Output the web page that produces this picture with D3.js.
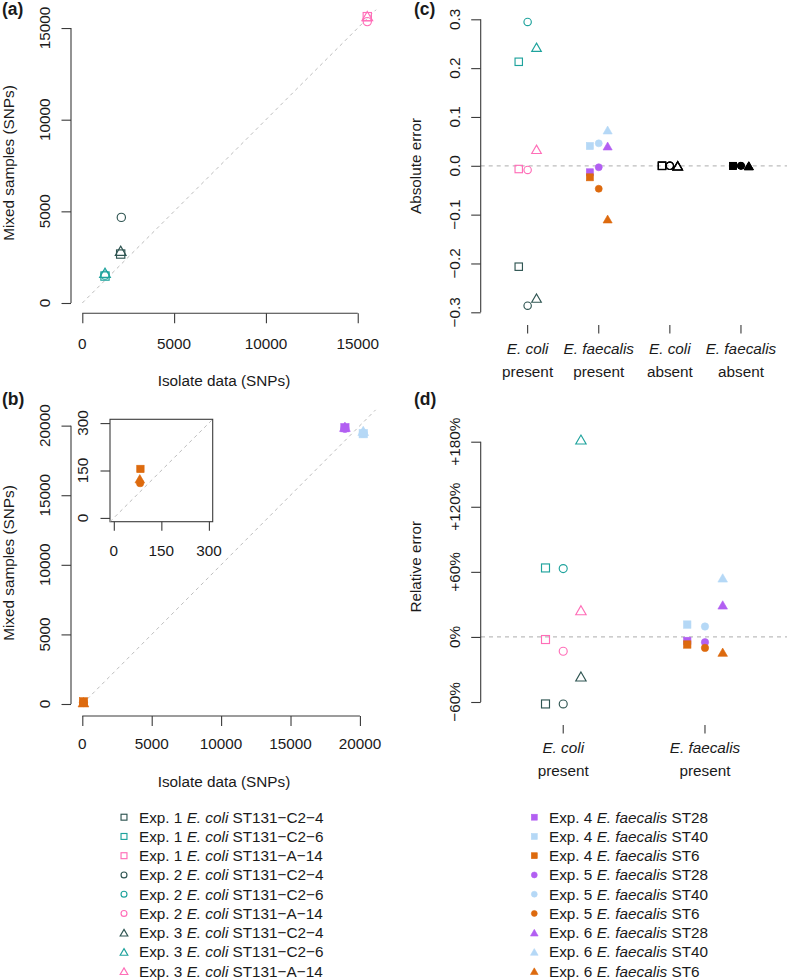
<!DOCTYPE html>
<html><head><meta charset="utf-8">
<script src="https://cdn.jsdelivr.net/npm/d3@7"></script>
<style>body{margin:0;background:#fff}svg{display:block}</style>
</head><body><div id="chart"></div>
<script>
// ---------------- DATA ----------------
const ecoliStrains = ["ST131\u2212C2\u22124", "ST131\u2212C2\u22126", "ST131\u2212A\u221214"];
const faecalisStrains = ["ST28", "ST40", "ST6"];
const ecoliExps = ["Exp. 1", "Exp. 2", "Exp. 3"];
const faecalisExps = ["Exp. 4", "Exp. 5", "Exp. 6"];
const ecoliColors = ["#2F5552", "#1FA39D", "#FF6EB8"];
const faecalisColors = ["#B25FF2", "#B5D8F6", "#DD6A0E"];
const expShapes = ["square", "circle", "triangle"];

// Panel (a): order Exp1 (C2-4, C2-6, A-14), Exp2 (...), Exp3 (...)
const aIsolate = [2090, 1236, 15520, 2125, 1236, 15520, 2090, 1236, 15520];
const aMixed   = [2670, 1470, 15620, 4670, 1520, 15350, 2850, 1650, 15650];
const aTicks = [0, 5000, 10000, 15000];

// Panel (b): order Exp4 (ST28, ST40, ST6), Exp5 (...), Exp6 (...)
const bIsolate = [18920, 20240, 84, 18920, 20240, 83, 18920, 20240, 82];
const bMixed   = [19850, 19420, 155, 19800, 19450, 110, 19920, 19620, 124];
const bTicks = [0, 5000, 10000, 15000, 20000];
const bInsetTicks = [0, 150, 300];

// Panel (c): absolute error
const cCategories = [["E. coli", "present"], ["E. faecalis", "present"], ["E. coli", "absent"], ["E. faecalis", "absent"]];
const cEcoliPresent    = [-0.2066, 0.213, -0.0066, -0.2865, 0.2945, -0.0086, -0.271, 0.2427, 0.0338];
const cFaecalisPresent = [-0.0133, 0.0405, -0.0236, -0.003, 0.046, -0.047, 0.0405, 0.0733, -0.109];
const cEcoliAbsent     = [0, 0, 0, 0, 0, 0, 0, 0, 0];
const cFaecalisAbsent  = [0, 0, 0, 0, 0, 0, 0, 0, 0];
const cTicks = [-0.3, -0.2, -0.1, 0.0, 0.1, 0.2, 0.3];

// Panel (d): relative error (%)
const dCategories = [["E. coli", "present"], ["E. faecalis", "present"]];
const dEcoliPresent    = [-61.8, 63.6, -2.4, -61.8, 63.0, -13.2, -36.5, 182, 24.6];
const dFaecalisPresent = [-3.7, 11.4, -7.0, -4.9, 9.6, -10.1, 29.5, 54.4, -14.1];
const dTicks = [-60, 0, 60, 120, 180];
const dTickLabels = ["\u221260%", "0%", "+60%", "+120%", "+180%"];

// ---------------- DRAWING ----------------
const W = 787, H = 980;
const FONT = "'Liberation Sans', Arial, Helvetica, sans-serif";
const FS = 15.3;
const AXC = "#3a3a3a", TXT = "#1a1a1a", DASH = "#bdbdbd";

const svg = d3.select("#chart").append("svg").attr("width", W).attr("height", H)
  .attr("font-family", FONT).attr("font-size", FS).attr("fill", TXT);
svg.append("rect").attr("width", W).attr("height", H).attr("fill", "#fff");

function fmtMinus(s) { return String(s).replace("-", "\u2212"); }

function symbol(g, shape, filled, color, x, y, k) {
  let el;
  if (shape === "circle") {
    el = g.append("circle").attr("cx", x).attr("cy", y).attr("r", 3.7 * k);
  } else if (shape === "square") {
    const s = 7.4 * k;
    el = g.append("rect").attr("x", x - s / 2).attr("y", y - s / 2).attr("width", s).attr("height", s);
  } else {
    const a = 9.6 * k, h = a * Math.sqrt(3) / 2;
    const cy = y + h * 0.12;
    el = g.append("path").attr("d",
      `M${x},${cy - h * 0.62}L${x + a / 2},${cy + h * 0.38}L${x - a / 2},${cy + h * 0.38}Z`);
  }
  if (filled) el.attr("fill", color).attr("stroke", color).attr("stroke-width", 0.6);
  else el.attr("fill", "none").attr("stroke", color).attr("stroke-width", 1.15);
}

function yAxis(g, scale, ticks, labels, x, off) {
  const ax = d3.axisLeft(scale).tickValues(ticks).tickSize(9.5).tickFormat("");
  const a = g.append("g").attr("transform", `translate(${x},0)`).call(ax);
  a.select(".domain").attr("stroke", AXC).attr("stroke-width", 1.1)
    .attr("d", `M0,${scale(ticks[0])}V${scale(ticks[ticks.length - 1])}`);
  a.selectAll(".tick line").attr("stroke", AXC).attr("stroke-width", 1.1);
  ticks.forEach((t, i) => {
    g.append("text").attr("transform", `translate(${x - (off || 21)},${scale(t)}) rotate(-90)`)
      .attr("text-anchor", "middle").text(labels[i]);
  });
}

function xAxis(g, scale, ticks, labels, y, base) {
  const ax = d3.axisBottom(scale).tickValues(ticks).tickSize(10).tickFormat("");
  const a = g.append("g").attr("transform", `translate(0,${y})`).call(ax);
  a.select(".domain").attr("stroke", AXC).attr("stroke-width", 1.1)
    .attr("d", `M${scale(ticks[0])},0H${scale(ticks[ticks.length - 1])}`);
  a.selectAll(".tick line").attr("stroke", AXC).attr("stroke-width", 1.1);
  ticks.forEach((t, i) => {
    g.append("text").attr("x", scale(t)).attr("y", base).attr("text-anchor", "middle").text(labels[i]);
  });
}

function panelLabel(txt, x, y) {
  svg.append("text").attr("x", x).attr("y", y).attr("font-weight", "bold").attr("font-size", 17.5).text(txt);
}

// ---- Panel (a) ----
{
  const g = svg.append("g");
  const x = d3.scaleLinear().domain([0, 16000]).range([82.3, 376.1]);
  const y = d3.scaleLinear().domain([0, 16000]).range([303, 9.7]);
  g.append("line").attr("x1", x(0)).attr("y1", y(0)).attr("x2", x(16000)).attr("y2", y(16000))
    .attr("stroke", DASH).attr("stroke-dasharray", "3.5,3.5").attr("stroke-width", 1);
  yAxis(g, y, aTicks, aTicks.map(String), 71);
  xAxis(g, x, aTicks, aTicks.map(String), 313.3, 348.5);
  g.append("text").attr("x", 224).attr("y", 386).attr("text-anchor", "middle").text("Isolate data (SNPs)");
  g.append("text").attr("transform", "translate(13.5,163) rotate(-90)").attr("text-anchor", "middle").text("Mixed samples (SNPs)");
  aIsolate.forEach((v, i) => symbol(g, expShapes[Math.floor(i / 3)], false, ecoliColors[i % 3], x(v), y(aMixed[i]), 1.12));
  panelLabel("(a)", 2, 15);
}

// ---- Panel (b) ----
{
  const g = svg.append("g");
  const x = d3.scaleLinear().domain([0, 21130]).range([82.3, 375.6]);
  const y = d3.scaleLinear().domain([0, 21130]).range([704, 409.9]);
  g.append("line").attr("x1", x(0)).attr("y1", y(0)).attr("x2", x(21130)).attr("y2", y(21130))
    .attr("stroke", DASH).attr("stroke-dasharray", "3.5,3.5").attr("stroke-width", 1);
  yAxis(g, y, bTicks, bTicks.map(String), 71);
  xAxis(g, x, bTicks, bTicks.map(String), 716, 749.3);
  g.append("text").attr("x", 224).attr("y", 787).attr("text-anchor", "middle").text("Isolate data (SNPs)");
  g.append("text").attr("transform", "translate(13.5,563) rotate(-90)").attr("text-anchor", "middle").text("Mixed samples (SNPs)");
  bIsolate.forEach((v, i) => symbol(g, expShapes[Math.floor(i / 3)], true, faecalisColors[i % 3], x(v), y(bMixed[i]), 1.12));

  // inset
  const gi = svg.append("g");
  const xi = d3.scaleLinear().domain([-12, 312]).range([110, 212.7]);
  const yi = d3.scaleLinear().domain([-12, 312]).range([521.7, 419.3]);
  gi.append("rect").attr("x", 110).attr("y", 419.3).attr("width", 102.7).attr("height", 102.4)
    .attr("fill", "#fff").attr("stroke", AXC).attr("stroke-width", 1.1);
  gi.append("line").attr("x1", xi(-12)).attr("y1", yi(-12)).attr("x2", xi(312)).attr("y2", yi(312))
    .attr("stroke", DASH).attr("stroke-dasharray", "3.5,3.5").attr("stroke-width", 1);
  const ayi = gi.append("g").attr("transform", "translate(110,0)")
    .call(d3.axisLeft(yi).tickValues(bInsetTicks).tickSize(9.5).tickFormat(""));
  ayi.select(".domain").remove();
  ayi.selectAll(".tick line").attr("stroke", AXC).attr("stroke-width", 1.1);
  bInsetTicks.forEach(t => gi.append("text").attr("transform", `translate(${110 - 21.7},${yi(t)}) rotate(-90)`)
    .attr("text-anchor", "middle").text(t));
  const axi = gi.append("g").attr("transform", "translate(0,521.7)")
    .call(d3.axisBottom(xi).tickValues(bInsetTicks).tickSize(9).tickFormat(""));
  axi.select(".domain").remove();
  axi.selectAll(".tick line").attr("stroke", AXC).attr("stroke-width", 1.1);
  bInsetTicks.forEach(t => gi.append("text").attr("x", xi(t)).attr("y", 556).attr("text-anchor", "middle").text(t));
  bIsolate.forEach((v, i) => {
    if (v <= 300 && bMixed[i] <= 300)
      symbol(gi, expShapes[Math.floor(i / 3)], true, faecalisColors[i % 3], xi(v), yi(bMixed[i]), 1.0);
  });
  panelLabel("(b)", 2, 405);
}

// category axis helper
function catAxis(g, x, cats, tickY, b1, b2) {
  cats.forEach((c, i) => {
    const cx = x(i + 1);
    g.append("line").attr("x1", cx).attr("x2", cx).attr("y1", tickY).attr("y2", tickY + 8.5)
      .attr("stroke", AXC).attr("stroke-width", 1.1);
    g.append("text").attr("x", cx).attr("y", b1).attr("text-anchor", "middle").attr("font-style", "italic").text(c[0]);
    g.append("text").attr("x", cx).attr("y", b2).attr("text-anchor", "middle").text(c[1]);
  });
}

function drawGroup(g, x, y, cat, vals, colors, filled, off, k, colorOverride) {
  vals.forEach((v, i) => {
    const e = Math.floor(i / 3);
    const px = x(cat + (e - 1) * off);
    symbol(g, expShapes[e], filled, colorOverride || colors[i % 3], px, y(v), k);
  });
}

// ---- Panel (c) ----
{
  const g = svg.append("g");
  const x = d3.scaleLinear().domain([0.34, 4.66]).range([480.7, 787.9]);
  const y = d3.scaleLinear().domain([-0.3, 0.3]).range([312.3, 19.3]);
  g.append("line").attr("x1", 480.7).attr("x2", 787.9).attr("y1", y(0)).attr("y2", y(0))
    .attr("stroke", DASH).attr("stroke-dasharray", "4,4").attr("stroke-width", 1.2);
  yAxis(g, y, cTicks, cTicks.map(t => fmtMinus(t.toFixed(1))), 480.7);
  catAxis(g, x, cCategories, 325, 354, 376.5);
  g.append("text").attr("transform", "translate(421,166) rotate(-90)").attr("text-anchor", "middle").text("Absolute error");
  drawGroup(g, x, y, 1, cEcoliPresent, ecoliColors, false, 0.125, 1.0);
  drawGroup(g, x, y, 2, cFaecalisPresent, faecalisColors, true, 0.125, 0.95);
  drawGroup(g, x, y, 3, cEcoliAbsent, null, false, 0.11, 1.0, "#000");
  drawGroup(g, x, y, 4, cFaecalisAbsent, null, true, 0.11, 0.95, "#000");
  panelLabel("(c)", 414, 15);
}

// ---- Panel (d) ----
{
  const g = svg.append("g");
  const x = d3.scaleLinear().domain([0.42, 2.58]).range([481, 787.2]);
  const y = d3.scaleLinear().domain([-60, 180]).range([702, 441.7]);
  g.append("line").attr("x1", 481).attr("x2", 787.2).attr("y1", y(0)).attr("y2", y(0))
    .attr("stroke", DASH).attr("stroke-dasharray", "4,4").attr("stroke-width", 1.2);
  yAxis(g, y, dTicks, dTickLabels, 480.7);
  catAxis(g, x, dCategories, 725, 753, 776);
  g.append("text").attr("transform", "translate(421,566.7) rotate(-90)").attr("text-anchor", "middle").text("Relative error");
  drawGroup(g, x, y, 1, dEcoliPresent, ecoliColors, false, 0.125, 1.08);
  drawGroup(g, x, y, 2, dFaecalisPresent, faecalisColors, true, 0.125, 1.0);
  panelLabel("(d)", 414, 405);
}

// ---- Legends ----
function legend(x0, tx, exps, strains, colors, species, filled) {
  const g = svg.append("g");
  let r = 0;
  exps.forEach((ex, e) => {
    strains.forEach((st, s) => {
      const base = 822.5 + r * 19.25;
      symbol(g, expShapes[e], filled, colors[s], x0, base - 5.3, 0.8);
      const t = g.append("text").attr("x", tx).attr("y", base);
      t.append("tspan").text(ex + " ");
      t.append("tspan").attr("font-style", "italic").text(species);
      t.append("tspan").text(" " + st);
      r++;
    });
  });
}
legend(124, 139, ecoliExps, ecoliStrains, ecoliColors, "E. coli", false);
legend(534.3, 549, faecalisExps, faecalisStrains, faecalisColors, "E. faecalis", true);
</script>
</body></html>
